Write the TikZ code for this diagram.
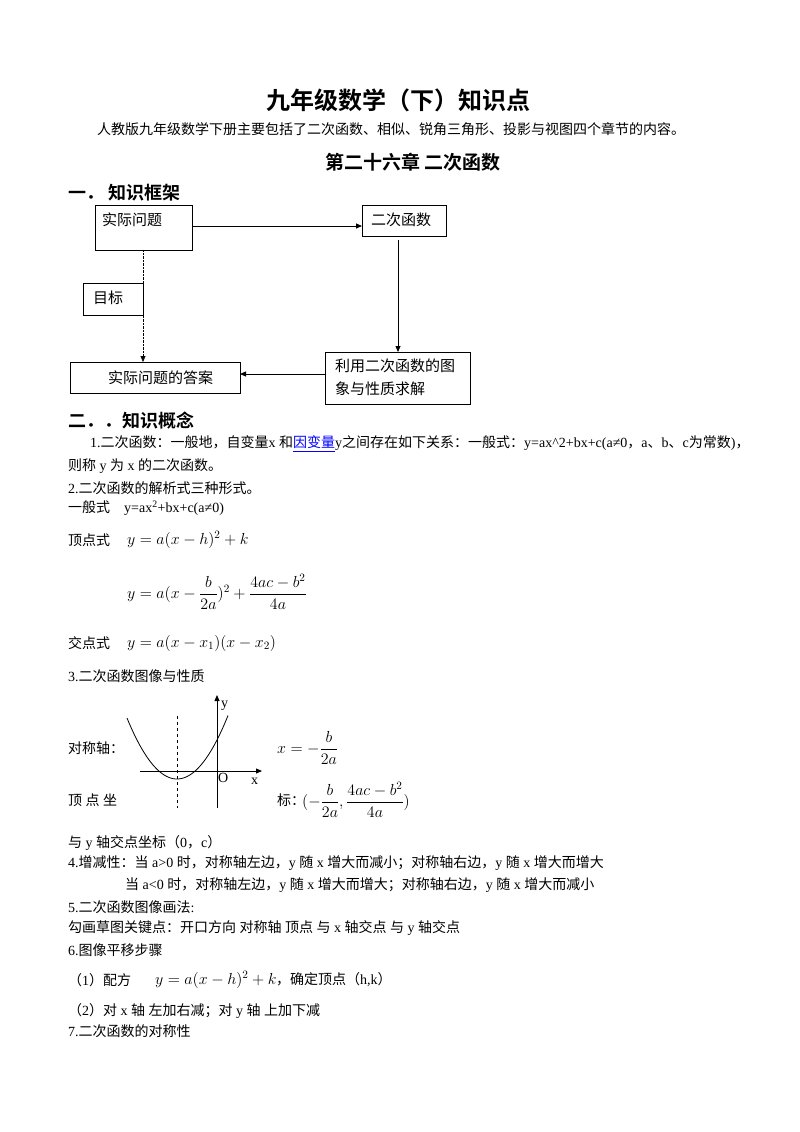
\RequirePackage{fix-cm}
\documentclass[tikz,border=0pt]{standalone}
\usepackage{amsmath}
\usepackage{fontspec}
\usetikzlibrary{arrows.meta}
\setmainfont{Liberation Serif}
\newfontfamily\cjkfam{Noto Sans CJK SC}[BoldFont={Noto Sans CJK SC Bold}]
\makeatletter
\newXeTeXintercharclass\cjkclass
\def\setcjkrange#1#2{\count@=#1\relax\loop\XeTeXcharclass\count@=\cjkclass\advance\count@ by 1\relax\ifnum\count@<#2\repeat}
\setcjkrange{"3000}{"3040}
\setcjkrange{"4E00}{"A000}
\setcjkrange{"FF00}{"FFF0}
\makeatother
\XeTeXinterchartokenstate=1
\XeTeXinterchartoks 0 \cjkclass={\cjkfam}
\XeTeXinterchartoks 4095 \cjkclass={\cjkfam}
\XeTeXinterchartoks \cjkclass 0={\rmfamily}
\XeTeXinterchartoks \cjkclass 4095={\rmfamily}
\tikzset{
 txt/.style={anchor=west,inner sep=0pt,font=\fontsize{14}{17}\selectfont},
 bxt/.style={anchor=west,inner sep=0pt,font=\fontsize{15}{18}\selectfont},
 mth/.style={anchor=west,inner sep=0pt,font=\fontsize{16}{19}\selectfont},
 hd/.style={anchor=west,inner sep=0pt,font=\fontsize{18}{20}\selectfont\bfseries},
 arr/.style={thick,-{Triangle[length=6pt,width=5pt]}}
}
\begin{document}
\begin{tikzpicture}[x=1pt,y=-1pt]
\useasboundingbox (0,0) rectangle (800,1132);
\node[inner sep=0pt,font=\fontsize{24}{26}\selectfont\bfseries] (title) at (398,100) {九年级数学（下）知识点};
\node[txt] (intro) at (97,129) {人教版九年级数学下册主要包括了二次函数、相似、锐角三角形、投影与视图四个章节的内容。};
\node[inner sep=0pt,font=\fontsize{19}{21}\selectfont\bfseries] (ch) at (413,162) {第二十六章\ 二次函数};
\node[hd] (h1) at (68,193) {一．\ 知识框架};
% boxes
\draw[thick] (95,205) rectangle (192,250); \node[bxt] (b1) at (102,220) {实际问题};
\draw[thick] (362,205) rectangle (446,236); \node[bxt] (b2) at (371,220) {二次函数};
\draw[thin] (83,283) rectangle (143,315); \node[bxt] (b3) at (93,298) {目标};
\draw[thick] (70,362) rectangle (240,393); \node[bxt] (b4) at (108,378) {实际问题的答案};
\draw[thick] (325,352) rectangle (470,404);
\node[bxt] (b5) at (335,366) {利用二次函数的图};
\node[bxt] (b5b) at (335,389) {象与性质求解};
\coordinate (p1) at (192,226); \coordinate (p2) at (362,226);
\draw[arr] (p1) -- (p2);
\coordinate (p3) at (398,240); \coordinate (p4) at (398,352);
\draw[arr] (p3) -- (p4);
\coordinate (p5) at (325,374); \coordinate (p6) at (240,374);
\draw[arr] (p5) -- (p6);
\coordinate (p7) at (143,250); \coordinate (p8) at (143,362);
\draw[densely dotted,-{Triangle[length=6pt,width=5pt]}] (p7) -- (p8);
\node[hd] (h2) at (68,421) {二．．知识概念};
\node[txt] (l1) at (90,444) {1.二次函数：一般地，自变量x 和\textcolor{blue}{\underline{因变量}}y之间存在如下关系：一般式：y=ax\^{}2+bx+c(a≠0，a、b、c为常数)，};
\node[txt] (l2) at (68,466) {则称 y 为 x 的二次函数。};
\node[txt] (l3) at (68,488) {2.二次函数的解析式三种形式。};
\node[txt] (l4) at (68,508) {一般式\quad y=ax\textsuperscript{2}+bx+c(a≠0)};
\node[txt] (l5) at (68,540) {顶点式};
\node[mth] (m5) at (127,540) {$y=a(x-h)^2+k$};
\node[mth] (l6) at (127,592) {$y=a(x-\dfrac{b}{2a})^2+\dfrac{4ac-b^2}{4a}$};
\node[txt] (l7) at (68,643) {交点式};
\node[mth] (m7) at (127,643) {$y=a(x-x_1)(x-x_2)$};
\node[txt] (l8) at (68,676) {3.二次函数图像与性质};
% graph
\coordinate (xa) at (140,771); \coordinate (xb) at (262,771);
\draw[thick,-{Triangle[length=6pt,width=5pt]}] (xa) -- (xb);
\coordinate (ya) at (217,808); \coordinate (yb) at (217,695);
\draw[thick,-{Triangle[length=6pt,width=5pt]}] (ya) -- (yb);
\coordinate (da) at (177,716); \coordinate (db) at (177,808);
\draw[dashed] (da) -- (db);
\draw[thick,domain=-50:51,samples=60] plot (177+\x,{779-0.0244*\x*\x});
\node[txt] (ly) at (221,706) {y};
\node[txt] (lo) at (218,778) {O};
\node[txt] (lx) at (251,781) {x};
\node[txt] (l9) at (68,748) {对称轴：};
\node[mth] (l10) at (277,748) {$x=-\dfrac{b}{2a}$};
\node[txt] (l11) at (68,800) {顶\ 点\ 坐};
\node[txt] (l12a) at (277,800) {标：};
\node[mth] (l12) at (302,800) {$(-\dfrac{b}{2a},\dfrac{4ac-b^2}{4a})$};
\node[txt] (l13) at (68,843) {与 y 轴交点坐标（0，c）};
\node[txt] (l14) at (68,863) {4.增减性：当 a>0 时，对称轴左边，y 随 x 增大而减小；对称轴右边，y 随 x 增大而增大};
\node[txt] (l15) at (125,885) {当 a<0 时，对称轴左边，y 随 x 增大而增大；对称轴右边，y 随 x 增大而减小};
\node[txt] (l16) at (68,907) {5.二次函数图像画法:};
\node[txt] (l17) at (68,928) {勾画草图关键点：开口方向\ 对称轴\ 顶点\ 与 x 轴交点\ 与 y 轴交点};
\node[txt] (l18) at (68,950) {6.图像平移步骤};
\node[txt] (l19) at (68,980) {（1）配方};
\node[mth] (m19) at (155,980) {$y=a(x-h)^2+k$};
\node[txt] (l19b) at (276,980) {，确定顶点（h,k）};
\node[txt] (l20) at (68,1011) {（2）对 x 轴\ 左加右减；对 y 轴\ 上加下减};
\node[txt] (l21) at (68,1031) {7.二次函数的对称性};
\end{tikzpicture}
\end{document}
